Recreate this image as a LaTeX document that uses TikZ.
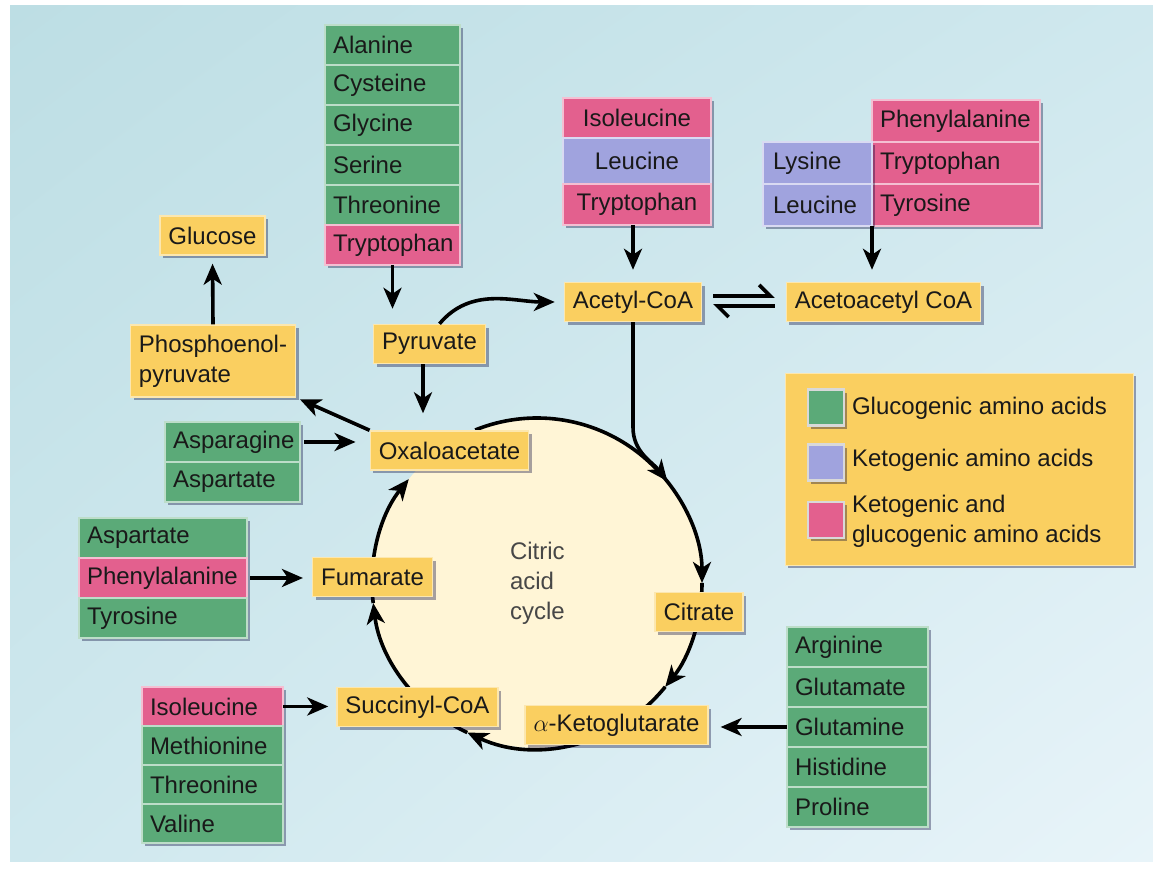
\documentclass[tikz,border=0pt]{standalone}
\usepackage{fontspec}
\setmainfont{Liberation Sans}
\usetikzlibrary{positioning, shadows, shadings, arrows.meta}
\definecolor{bgTop}{RGB}{189,222,228}
\definecolor{bgMid}{RGB}{207,232,238}
\definecolor{bgBottom}{RGB}{232,244,249}
\definecolor{glucoGreen}{RGB}{91,170,120}
\definecolor{ketoBlue}{RGB}{160,163,222}
\definecolor{bothPink}{RGB}{227,96,142}
\definecolor{metYellow}{RGB}{250,207,96}
\definecolor{cycleCream}{RGB}{255,245,214}
\tikzset{
	every node/.append style={
		font=\fontsize{12}{15}\selectfont,
		text=black!90,
	},
	boxshadow/.style={
		drop shadow={shadow xshift=1.6pt, shadow yshift=-1.6pt, opacity=0.35, fill=black!80!blue},
	},
	metab/.append style={
		fill=metYellow,
		draw=metYellow!50!white,
		line width=0.7pt,
		inner xsep=4.25pt,
		minimum height=19.5pt,
		boxshadow,
	},
	aacell/.style={
		text width=#1,
		align=left,
		inner xsep=4pt,
		inner ysep=0pt,
		outer sep=0pt,
		minimum height=20pt,
		line width=0.7pt,
		boxshadow,
	},
	gcell/.style={aacell=#1, fill=glucoGreen, draw=glucoGreen!40!white},
	kcell/.style={aacell=#1, fill=ketoBlue, draw=ketoBlue!40!white},
	bcell/.style={aacell=#1, fill=bothPink, draw=bothPink!40!white},
	legendbox/.style={
		fill=metYellow,
		draw=metYellow!50!white,
		minimum width=174pt,
		minimum height=96pt,
		boxshadow,
	},
	swatch/.style={
		minimum size=18pt,
		inner sep=0pt,
		line width=1.2pt,
		draw=white!85!black,
		boxshadow,
	},
	cyclebg/.style={
		circle,
		fill=cycleCream,
		minimum size=165pt,
		inner sep=0pt,
	},
	arr/.style={
		-{Stealth[length=10.5pt, width=9pt, inset=3pt]},
		line width=1.8pt,
	},
	harp/.style={
		-{Straight Barb[left, length=5.5pt, width=11pt]},
		line width=1.8pt,
		shorten <=5.5pt,
		shorten >=5.5pt,
	},
}

\begin{document}
\begin{tikzpicture}[x=0.5pt, y=0.5pt]
\useasboundingbox (0,0) rectangle (1153,870);
\shade[upper left=bgTop, upper right=bgMid, lower left=bgMid, lower right=bgBottom] (10,8) rectangle (1153,864);

% citric acid cycle
\node(cyc)[cyclebg] at (537,287) {};
\node(cyctxt)[anchor=west, align=left, text=black!72] at (503,287) {Citric\\acid\\cycle};
\draw[arr] ([shift={(112:165)}]cyc.center) arc[start angle=112, end angle=0, radius=165];
\draw[arr] ([shift={(0:165)}]cyc.center) arc[start angle=0, end angle=-39, radius=165];
\draw[arr] ([shift={(-39:165)}]cyc.center) arc[start angle=-39, end angle=-115, radius=165];
\draw[arr] ([shift={(-115:165)}]cyc.center) arc[start angle=-115, end angle=-173, radius=165];
\draw[arr] ([shift={(-173:165)}]cyc.center) arc[start angle=-173, end angle=-219, radius=165];

% intermediates
\node(glc)[metab] at (212.5,634.5) {Glucose};
\node(pep)[metab, align=left, minimum height=36pt] at (213,509) {Phosphoenol-\\pyruvate};
\node(pyr)[metab] at (429.5,526) {Pyruvate};
\node(acoa)[metab] at (633,568) {Acetyl-CoA};
\node(aca)[metab] at (883.5,568) {Acetoacetyl CoA};
\node(oaa)[metab] at (449.5,419.5) {Oxaloacetate};
\node(fum)[metab] at (372.5,293) {Fumarate};
\node(cit)[metab] at (699,258) {Citrate};
\node(akg)[metab] at (616.5,145) {$\alpha$-Ketoglutarate};
\node(suc)[metab] at (417.5,163) {Succinyl-CoA};

% amino acids to pyruvate
\node(ala)[gcell=59.5pt, anchor=north west] at (325,845) {Alanine};
\node(cys)[gcell=59.5pt, below=0pt of ala] {Cysteine};
\node(gly)[gcell=59.5pt, below=0pt of cys] {Glycine};
\node(ser)[gcell=59.5pt, below=0pt of gly] {Serine};
\node(thr1)[gcell=59.5pt, below=0pt of ser] {Threonine};
\node(trp1)[bcell=59.5pt, below=0pt of thr1] {Tryptophan};

% amino acids to acetyl-CoA
\node(ile1)[bcell=66pt, align=center, anchor=north west] at (563,772) {Isoleucine};
\node(leu1)[kcell=66pt, align=center, minimum height=23pt, below=0pt of ile1] {Leucine};
\node(trp2)[bcell=66pt, align=center, minimum height=20.5pt, below=0pt of leu1] {Tryptophan};

% amino acids to acetoacetyl CoA
\node(phe2)[bcell=76pt, minimum height=21pt, anchor=north west] at (872,770) {Phenylalanine};
\node(trp3)[bcell=76pt, minimum height=21pt, below=0pt of phe2] {Tryptophan};
\node(tyr2)[bcell=76pt, minimum height=21pt, below=0pt of trp3] {Tyrosine};
\node(lys)[kcell=44.5pt, inner xsep=5pt, minimum height=21pt, left=0pt of trp3] {Lysine};
\node(leu2)[kcell=44.5pt, inner xsep=5pt, minimum height=21pt, left=0pt of tyr2] {Leucine};

% amino acids to oxaloacetate, fumarate, succinyl-CoA
\node(asn)[gcell=59.5pt, anchor=north west] at (165,448) {Asparagine};
\node(asp1)[gcell=59.5pt, below=0pt of asn] {Aspartate};

\node(asp2)[gcell=76pt, anchor=north west] at (79,352) {Aspartate};
\node(phe1)[bcell=76pt, below=0pt of asp2] {Phenylalanine};
\node(tyr1)[gcell=76pt, below=0pt of phe1] {Tyrosine};

\node(ile2)[bcell=62.5pt, minimum height=19.5pt, anchor=north west] at (142,183) {Isoleucine};
\node(met)[gcell=62.5pt, minimum height=19.5pt, below=0pt of ile2] {Methionine};
\node(thr2)[gcell=62.5pt, minimum height=19.5pt, below=0pt of met] {Threonine};
\node(val)[gcell=62.5pt, minimum height=19.5pt, below=0pt of thr2] {Valine};

% amino acids to alpha-ketoglutarate
\node(arg)[gcell=62.5pt, anchor=north west] at (787,243) {Arginine};
\node(glu)[gcell=62.5pt, below=0pt of arg] {Glutamate};
\node(gln)[gcell=62.5pt, below=0pt of glu] {Glutamine};
\node(his)[gcell=62.5pt, below=0pt of gln] {Histidine};
\node(pro)[gcell=62.5pt, below=0pt of his] {Proline};

% legend
\node(leg)[legendbox] at (959,401) {};
\node(sw1)[swatch, fill=glucoGreen] at (826,462.5) {};
\node(sw2)[swatch, fill=ketoBlue] at (826,407.5) {};
\node(sw3)[swatch, fill=bothPink] at (826,350) {};
\node(lg1)[anchor=west] at (845,462) {Glucogenic amino acids};
\node(lg2)[anchor=west] at (845,410) {Ketogenic amino acids};
\node(lg3)[anchor=west, align=left] at (845,349) {Ketogenic and\\glucogenic amino acids};

% connectors
\draw[arr, shorten >=7.5pt] (trp1.south) -- (trp1.south |- pyr.north);
\draw[arr, shorten >=8.5pt] ([xshift=-3.25pt]pyr.south) -- ([xshift=-3.25pt]pyr.south |- oaa.north);
\draw[arr, shorten >=4pt] (pep.north) -- (glc.south);
\draw[arr, shorten >=2pt] (oaa.north west) -- (pep.south east);
\draw[arr, shorten <=2pt, shorten >=7pt] (asn.east) -- (oaa.west |- asn.east);
\draw[arr, shorten <=1.5pt, shorten >=4.5pt] (phe1.east) -- (fum.west |- phe1.east);
\draw[arr, shorten >=4pt] (ile2.east) -- (suc.west |- ile2.east);
\draw[arr, shorten >=6pt] (gln.west) -- (akg.east |- gln.west);
\draw[arr, shorten >=6pt] (trp2.south -| acoa.north) -- (acoa.north);
\draw[arr, shorten >=6pt] (tyr2.south west) -- (tyr2.south west |- aca.north);
\draw[arr, shorten >=4.5pt] ([xshift=5pt]pyr.north) to[out=50, in=180] (acoa.west);
\draw[arr] (acoa.south) -- ++(0,-105) to[out=-90, in=128] (cyc.38.5);
\draw[harp] ([yshift=3pt]acoa.east) -- ([yshift=3pt]aca.west);
\draw[harp] ([yshift=-2pt]aca.west) -- ([yshift=-2pt]acoa.east);

\end{tikzpicture}
\end{document}
